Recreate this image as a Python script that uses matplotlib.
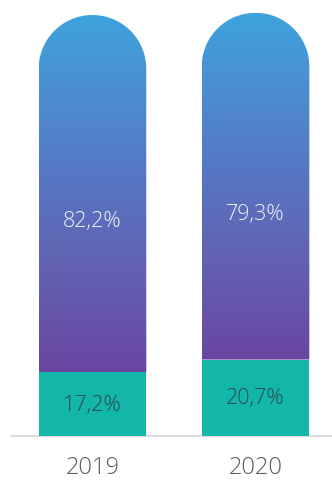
import numpy as np
import matplotlib
matplotlib.use("Agg")
import matplotlib.pyplot as plt
from matplotlib.path import Path
from matplotlib.patches import PathPatch, Rectangle
from matplotlib.colors import LinearSegmentedColormap

years = ['2019', '2020']
upper_share = [82.2, 79.3]
lower_share = [17.2, 20.7]
upper_labels = ['82,2%', '79,3%']
lower_labels = ['17,2%', '20,7%']

plt.rcParams['font.family'] = ['Open Sans', 'DejaVu Sans']

fig = plt.figure(figsize=(3.32, 4.81), dpi=100)
ax = fig.add_axes([0, 0, 1, 1])
ax.set_xlim(-0.567, 1.469)
ax.set_ylim(-11.9, 118.3)
ax.axis('off')

bar_w = 0.66
rx = bar_w / 2
# convert the horizontal radius into y units so the cap is a true semicircle
px_x = fig.get_figwidth() * fig.dpi / (ax.get_xlim()[1] - ax.get_xlim()[0])
px_y = fig.get_figheight() * fig.dpi / (ax.get_ylim()[1] - ax.get_ylim()[0])
ry = rx * px_x / px_y

grad = LinearSegmentedColormap.from_list(
    'bar_grad', [(0.0, '#6a46a0'), (0.3, '#6263b1'), (0.55, '#5677c4'),
                 (0.8, '#4b8fd1'), (1.0, '#3ea3dd')])
teal = '#12b7a9'

for i, (up, lo) in enumerate(zip(upper_share, lower_share)):
    x0, x1 = i - rx, i + rx
    top = lo + up
    # lower segment
    ax.add_patch(Rectangle((x0, 0), bar_w, lo, facecolor=teal,
                           edgecolor='none', zorder=2))
    # upper segment with rounded cap
    theta = np.linspace(np.pi, 0, 80)
    verts = [(x0, lo), (x0, top)]
    verts += [(i + rx * np.cos(t), top + ry * np.sin(t)) for t in theta]
    verts += [(x1, lo), (x0, lo)]
    codes = [Path.MOVETO] + [Path.LINETO] * (len(verts) - 2) + [Path.CLOSEPOLY]
    patch = PathPatch(Path(verts, codes), facecolor='none', edgecolor='none')
    ax.add_patch(patch)
    img = ax.imshow(np.linspace(0, 1, 256).reshape(-1, 1), cmap=grad,
                    origin='lower', aspect='auto',
                    extent=[x0, x1, lo, top + ry], zorder=2)
    img.set_clip_path(patch)

    ax.text(i, lo + up / 2, upper_labels[i], ha='center', va='center',
            fontsize=15.5, color='#eef2fa', fontweight=300, zorder=3)
    ax.text(i, lo / 2, lower_labels[i], ha='center', va='center',
            fontsize=15.5, color='#2c4a4c', fontweight=300, zorder=3)
    ax.text(i, -8.4, years[i], ha='center', va='center',
            fontsize=17, color='#5a5a5a', fontweight=300, zorder=3)

ax.plot([-0.505, 1.469], [0, 0], color='#dcdcdc', lw=1.5, zorder=1,
        solid_capstyle='butt')

fig.savefig('out.png', dpi=100)
